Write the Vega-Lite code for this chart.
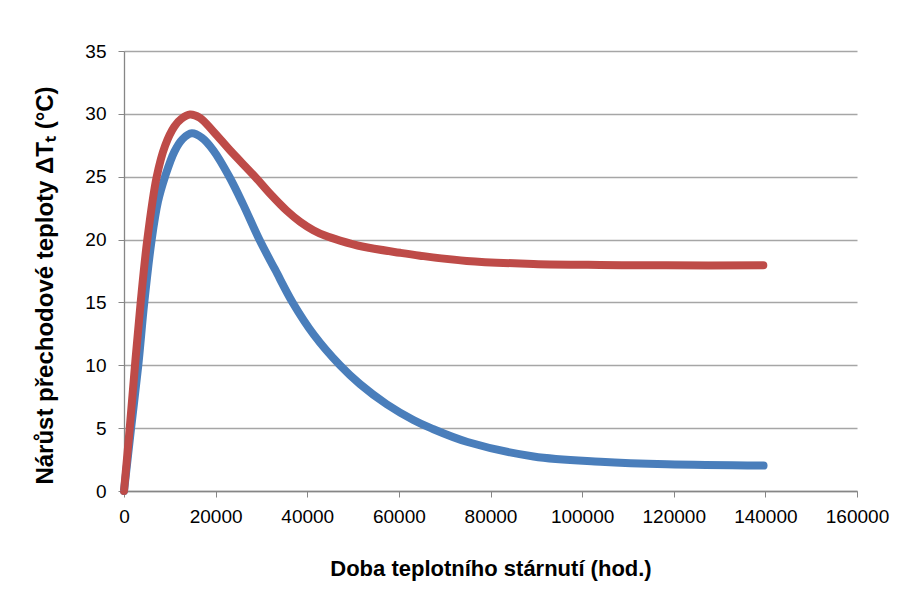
{
  "$schema": "https://vega.github.io/schema/vega-lite/v6.json",
  "width": 733,
  "height": 440,
  "autosize": "none",
  "padding": {"left": 124, "top": 51, "right": 47, "bottom": 101},
  "background": "white",
  "config": {
    "view": {"stroke": null},
    "font": "Liberation Sans",
    "axis": {
      "labelFont": "Liberation Sans",
      "titleFont": "Liberation Sans",
      "labelFontSize": 19,
      "labelColor": "#000000",
      "titleColor": "#000000",
      "titleFontSize": 22,
      "titleFontWeight": "bold",
      "domainColor": "#868686",
      "tickColor": "#868686",
      "gridColor": "#a6a6a6",
      "gridWidth": 1.3,
      "domainWidth": 1.3,
      "tickSize": 6,
      "labelOverlap": false,
      "labelBound": false,
      "labelFlush": false
    }
  },
  "datasets": {
    "curves": [
      {"t": 0, "v": 0, "s": "A"},
      {"t": 1550, "v": 5, "s": "A"},
      {"t": 3120, "v": 10, "s": "A"},
      {"t": 4430, "v": 15, "s": "A"},
      {"t": 6040, "v": 20, "s": "A"},
      {"t": 7400, "v": 23, "s": "A"},
      {"t": 8950, "v": 25, "s": "A"},
      {"t": 11000, "v": 27.0, "s": "A"},
      {"t": 12800, "v": 28.0, "s": "A"},
      {"t": 14800, "v": 28.45, "s": "A"},
      {"t": 17000, "v": 28.1, "s": "A"},
      {"t": 19500, "v": 27.1, "s": "A"},
      {"t": 22990, "v": 25.0, "s": "A"},
      {"t": 26000, "v": 22.8, "s": "A"},
      {"t": 29540, "v": 20.0, "s": "A"},
      {"t": 33000, "v": 17.6, "s": "A"},
      {"t": 36800, "v": 15.0, "s": "A"},
      {"t": 41500, "v": 12.4, "s": "A"},
      {"t": 47150, "v": 10.0, "s": "A"},
      {"t": 51520, "v": 8.5, "s": "A"},
      {"t": 57340, "v": 6.9, "s": "A"},
      {"t": 63160, "v": 5.65, "s": "A"},
      {"t": 67000, "v": 5.0, "s": "A"},
      {"t": 75000, "v": 3.9, "s": "A"},
      {"t": 89400, "v": 2.75, "s": "A"},
      {"t": 104000, "v": 2.33, "s": "A"},
      {"t": 118500, "v": 2.12, "s": "A"},
      {"t": 139600, "v": 2.02, "s": "A"},
      {"t": 0, "v": 0, "s": "B"},
      {"t": 1250, "v": 5, "s": "B"},
      {"t": 2400, "v": 10, "s": "B"},
      {"t": 3640, "v": 15, "s": "B"},
      {"t": 5090, "v": 20, "s": "B"},
      {"t": 7140, "v": 25, "s": "B"},
      {"t": 9000, "v": 27.5, "s": "B"},
      {"t": 11000, "v": 29.0, "s": "B"},
      {"t": 12500, "v": 29.6, "s": "B"},
      {"t": 14400, "v": 29.95, "s": "B"},
      {"t": 16500, "v": 29.7, "s": "B"},
      {"t": 19500, "v": 28.6, "s": "B"},
      {"t": 23140, "v": 27.1, "s": "B"},
      {"t": 28600, "v": 25.0, "s": "B"},
      {"t": 32000, "v": 23.6, "s": "B"},
      {"t": 35510, "v": 22.3, "s": "B"},
      {"t": 38500, "v": 21.4, "s": "B"},
      {"t": 41320, "v": 20.75, "s": "B"},
      {"t": 44000, "v": 20.3, "s": "B"},
      {"t": 47150, "v": 19.92, "s": "B"},
      {"t": 52000, "v": 19.45, "s": "B"},
      {"t": 60260, "v": 18.95, "s": "B"},
      {"t": 64610, "v": 18.72, "s": "B"},
      {"t": 74810, "v": 18.3, "s": "B"},
      {"t": 89370, "v": 18.06, "s": "B"},
      {"t": 103930, "v": 17.98, "s": "B"},
      {"t": 118480, "v": 17.95, "s": "B"},
      {"t": 139550, "v": 17.95, "s": "B"}
    ]
  },
  "data": {"name": "curves"},
  "encoding": {
    "x": {
      "field": "t", "type": "quantitative",
      "scale": {"domain": [0, 160000], "nice": false, "zero": true},
      "axis": {
        "values": [0, 20000, 40000, 60000, 80000, 100000, 120000, 140000, 160000],
        "format": "d",
        "grid": false,
        "title": "Doba teplotního stárnutí (hod.)",
        "labelPadding": 10,
        "titlePadding": 32
      }
    },
    "y": {
      "field": "v", "type": "quantitative",
      "scale": {"domain": [0, 35], "nice": false},
      "axis": {
        "values": [0, 5, 10, 15, 20, 25, 30, 35],
        "grid": true,
        "title": "Nárůst přechodové teploty ΔTₜ (°C)",
        "titleFontSize": 24,
        "labelPadding": 12,
        "titleX": -79,
        "titleY": 234,
        "titleAngle": -90,
        "titleBaseline": "middle"
      }
    }
  },
  "layer": [
    {
      "transform": [{"filter": "datum.s === 'A'"}],
      "mark": {"type": "line", "color": "#4a7ebb", "strokeWidth": 8, "strokeCap": "round", "strokeJoin": "round", "interpolate": "catmull-rom"}
    },
    {
      "transform": [{"filter": "datum.s === 'B'"}],
      "mark": {"type": "line", "color": "#be4b48", "strokeWidth": 8, "strokeCap": "round", "strokeJoin": "round", "interpolate": "catmull-rom"}
    }
  ]
}
